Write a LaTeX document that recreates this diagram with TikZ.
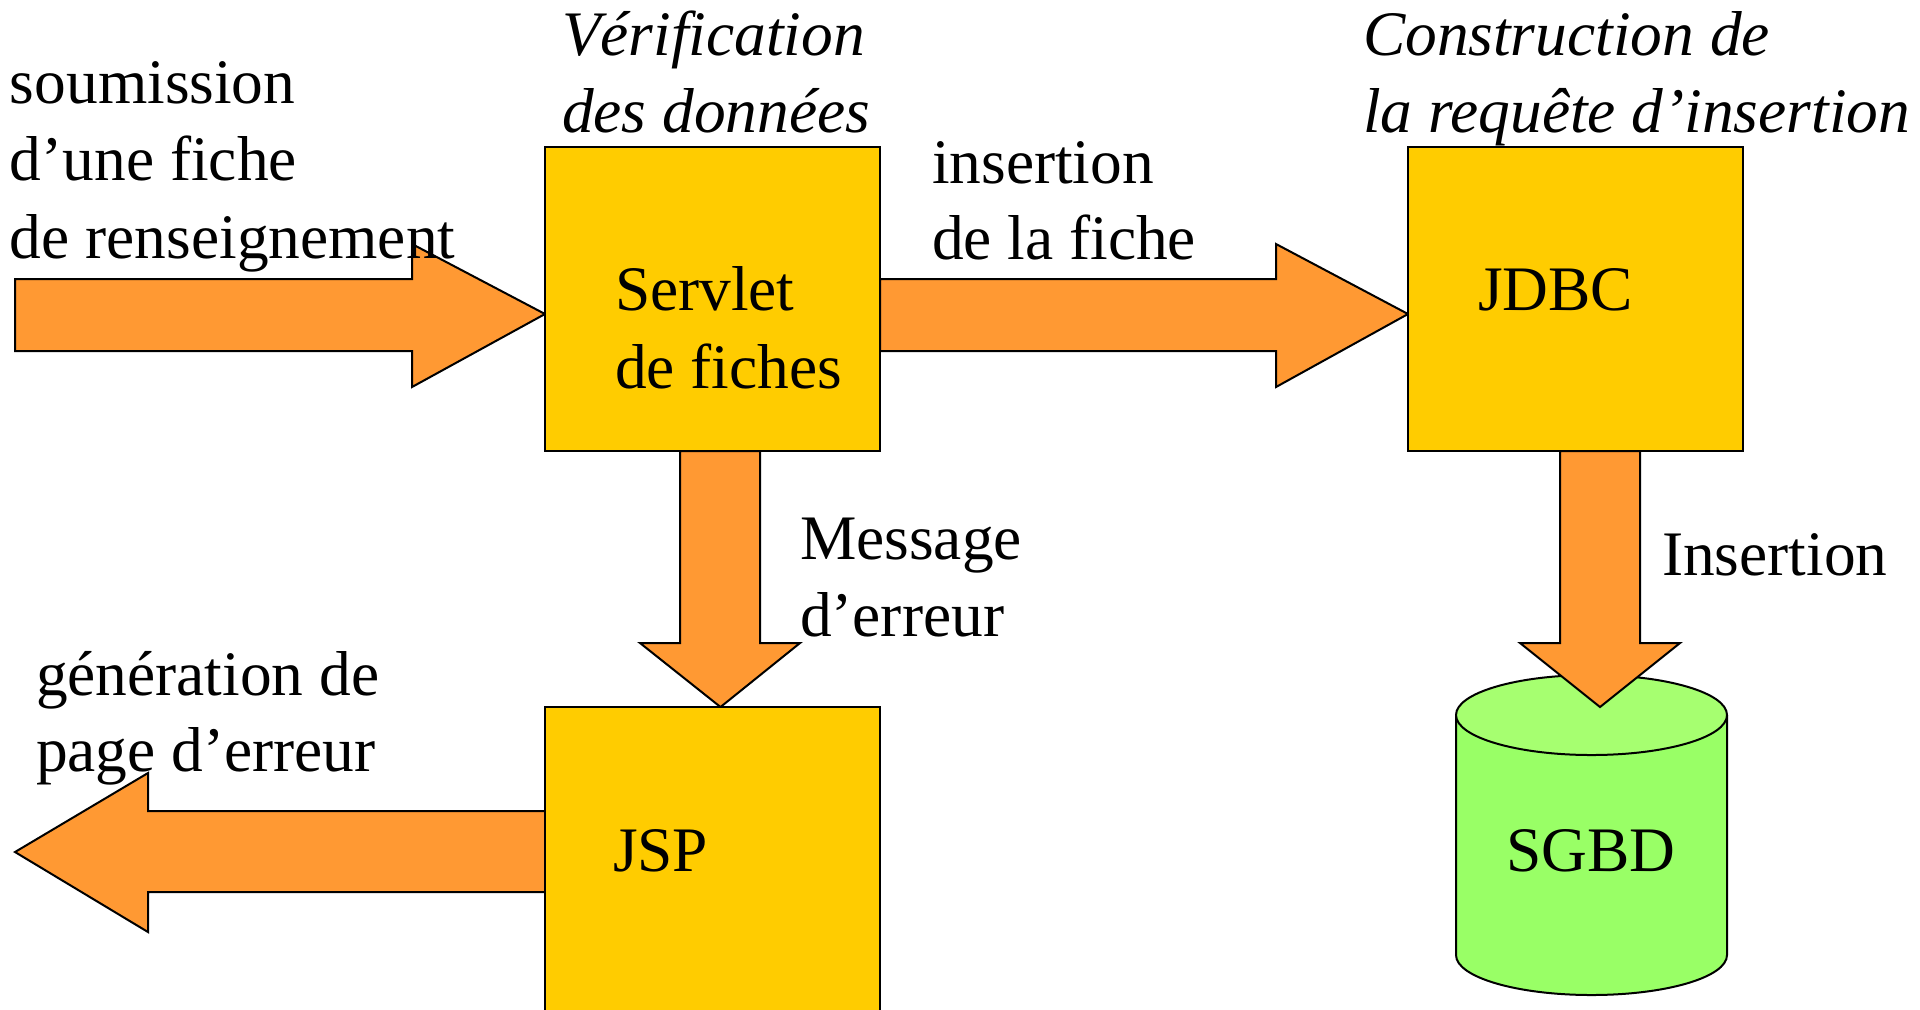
\documentclass[tikz,border=0pt]{standalone}
\usepackage{fontspec}
\setmainfont{Liberation Serif}
\usetikzlibrary{calc}
\pgfdeclarelayer{back}
\pgfdeclarelayer{mid}
\pgfsetlayers{back,mid,main}
\definecolor{boxyellow}{HTML}{FFCC00}
\definecolor{flow}{HTML}{FF9933}
\definecolor{dbbody}{HTML}{99FF66}
\definecolor{dbtop}{HTML}{A6FF70}
\tikzset{
  component/.style={draw=black, line width=1.2pt, fill=boxyellow, inner sep=0pt,
    outer sep=0pt, minimum width=167.5pt, minimum height=152pt},
  blockarrow/.style={draw=black, line width=1pt, fill=flow, line join=miter},
  label/.style={anchor=base west, inner sep=0pt, outer sep=0pt,
    font=\fontsize{31.7pt}{38pt}\selectfont},
  note/.style={label, font=\fontsize{31.7pt}{38pt}\selectfont\itshape},
}
\begin{document}
\begin{tikzpicture}[x=0.5pt, y=-0.5pt]
\useasboundingbox (0,0) rectangle (1920,1009);

% processing components
\node[component] (servlet) at (712.5,299) {};
\node[component] (jdbc) at (1575.5,299) {};
\node[component, minimum height=160pt] (jsp) at (712.5,867) {};

% free ends of the incoming and outgoing flows
\coordinate (input) at (15,315);
\coordinate (output) at (15,852);

% page background and database cylinder
\begin{pgfonlayer}{back}
  \fill[white] (0,0) rectangle (1920,1009);
  \fill[dbbody] (1456,715) -- (1456,955) arc[start angle=180, end angle=0,
    x radius=135.5, y radius=40] -- (1727,715) -- cycle;
  \draw[line width=1pt] (1456,715) -- (1456,955) arc[start angle=180, end angle=0,
    x radius=135.5, y radius=40] -- (1727,715);
  \draw[line width=1pt, fill=dbtop] (1591.5,715) ellipse[x radius=135.5, y radius=40];
\end{pgfonlayer}

% flows between the components
\begin{pgfonlayer}{mid}
  % submission of a form
  \draw[blockarrow] ($(input)+(0,-36)$) -- (412,279) -- (412,244)
    -- ($(servlet.west)+(0,15)$) -- (412,387) -- (412,351) -- ($(input)+(0,36)$) -- cycle;
  % insertion of the form
  \draw[blockarrow] ($(servlet.east)+(0,-20)$) -- (1276,279) -- (1276,244)
    -- ($(jdbc.west)+(0,15)$) -- (1276,387) -- (1276,351) -- ($(servlet.east)+(0,52)$) -- cycle;
  % error message
  \draw[blockarrow] (680,451) -- (680,643) -- (640,643)
    -- ($(jsp.north)+(8,0)$) -- (800,643) -- (760,643) -- (760,451) -- cycle;
  % error page generation
  \draw[blockarrow] ($(jsp.west)+(0,-56)$) -- (148,811) -- (148,773)
    -- (output) -- (148,932) -- (148,892) -- ($(jsp.west)+(0,25)$) -- cycle;
  % insertion into the database
  \draw[blockarrow] (1560,451) -- (1560,643) -- (1520,643)
    -- (1600,707) -- (1680,643) -- (1640,643) -- (1640,451) -- cycle;
\end{pgfonlayer}

% texts
\node[note] (verifa) at (562,55) {Vérification};
\node[note] (verifb) at (562,132) {des données};
\node[note] (constra) at (1363,55) {Construction de};
\node[note] (constrb) at (1363,132) {la requête d’insertion};

\node[label] (souma) at (10,103) {soumission};
\node[label] (soumb) at (10,180) {d’une fiche};
\node[label] (soumc) at (10,258) {de renseignement};

\node[label] (servleta) at (615,310) {Servlet};
\node[label] (servletb) at (615,388) {de fiches};

\node[label] (insa) at (932,183) {insertion};
\node[label] (insb) at (932,259) {de la fiche};

\node[label] (jdbctext) at (1478,310) {JDBC};

\node[label] (msga) at (800,559) {Message};
\node[label] (msgb) at (800,636) {d’erreur};

\node[label] (gena) at (36,695) {génération de};
\node[label] (genb) at (36,771) {page d’erreur};

\node[label] (jsptext) at (613,871) {JSP};

\node[label] (dbins) at (1662,575) {Insertion};

\node[label, anchor=base] (sgbd) at (1591,871) {SGBD};
\end{tikzpicture}
\end{document}
